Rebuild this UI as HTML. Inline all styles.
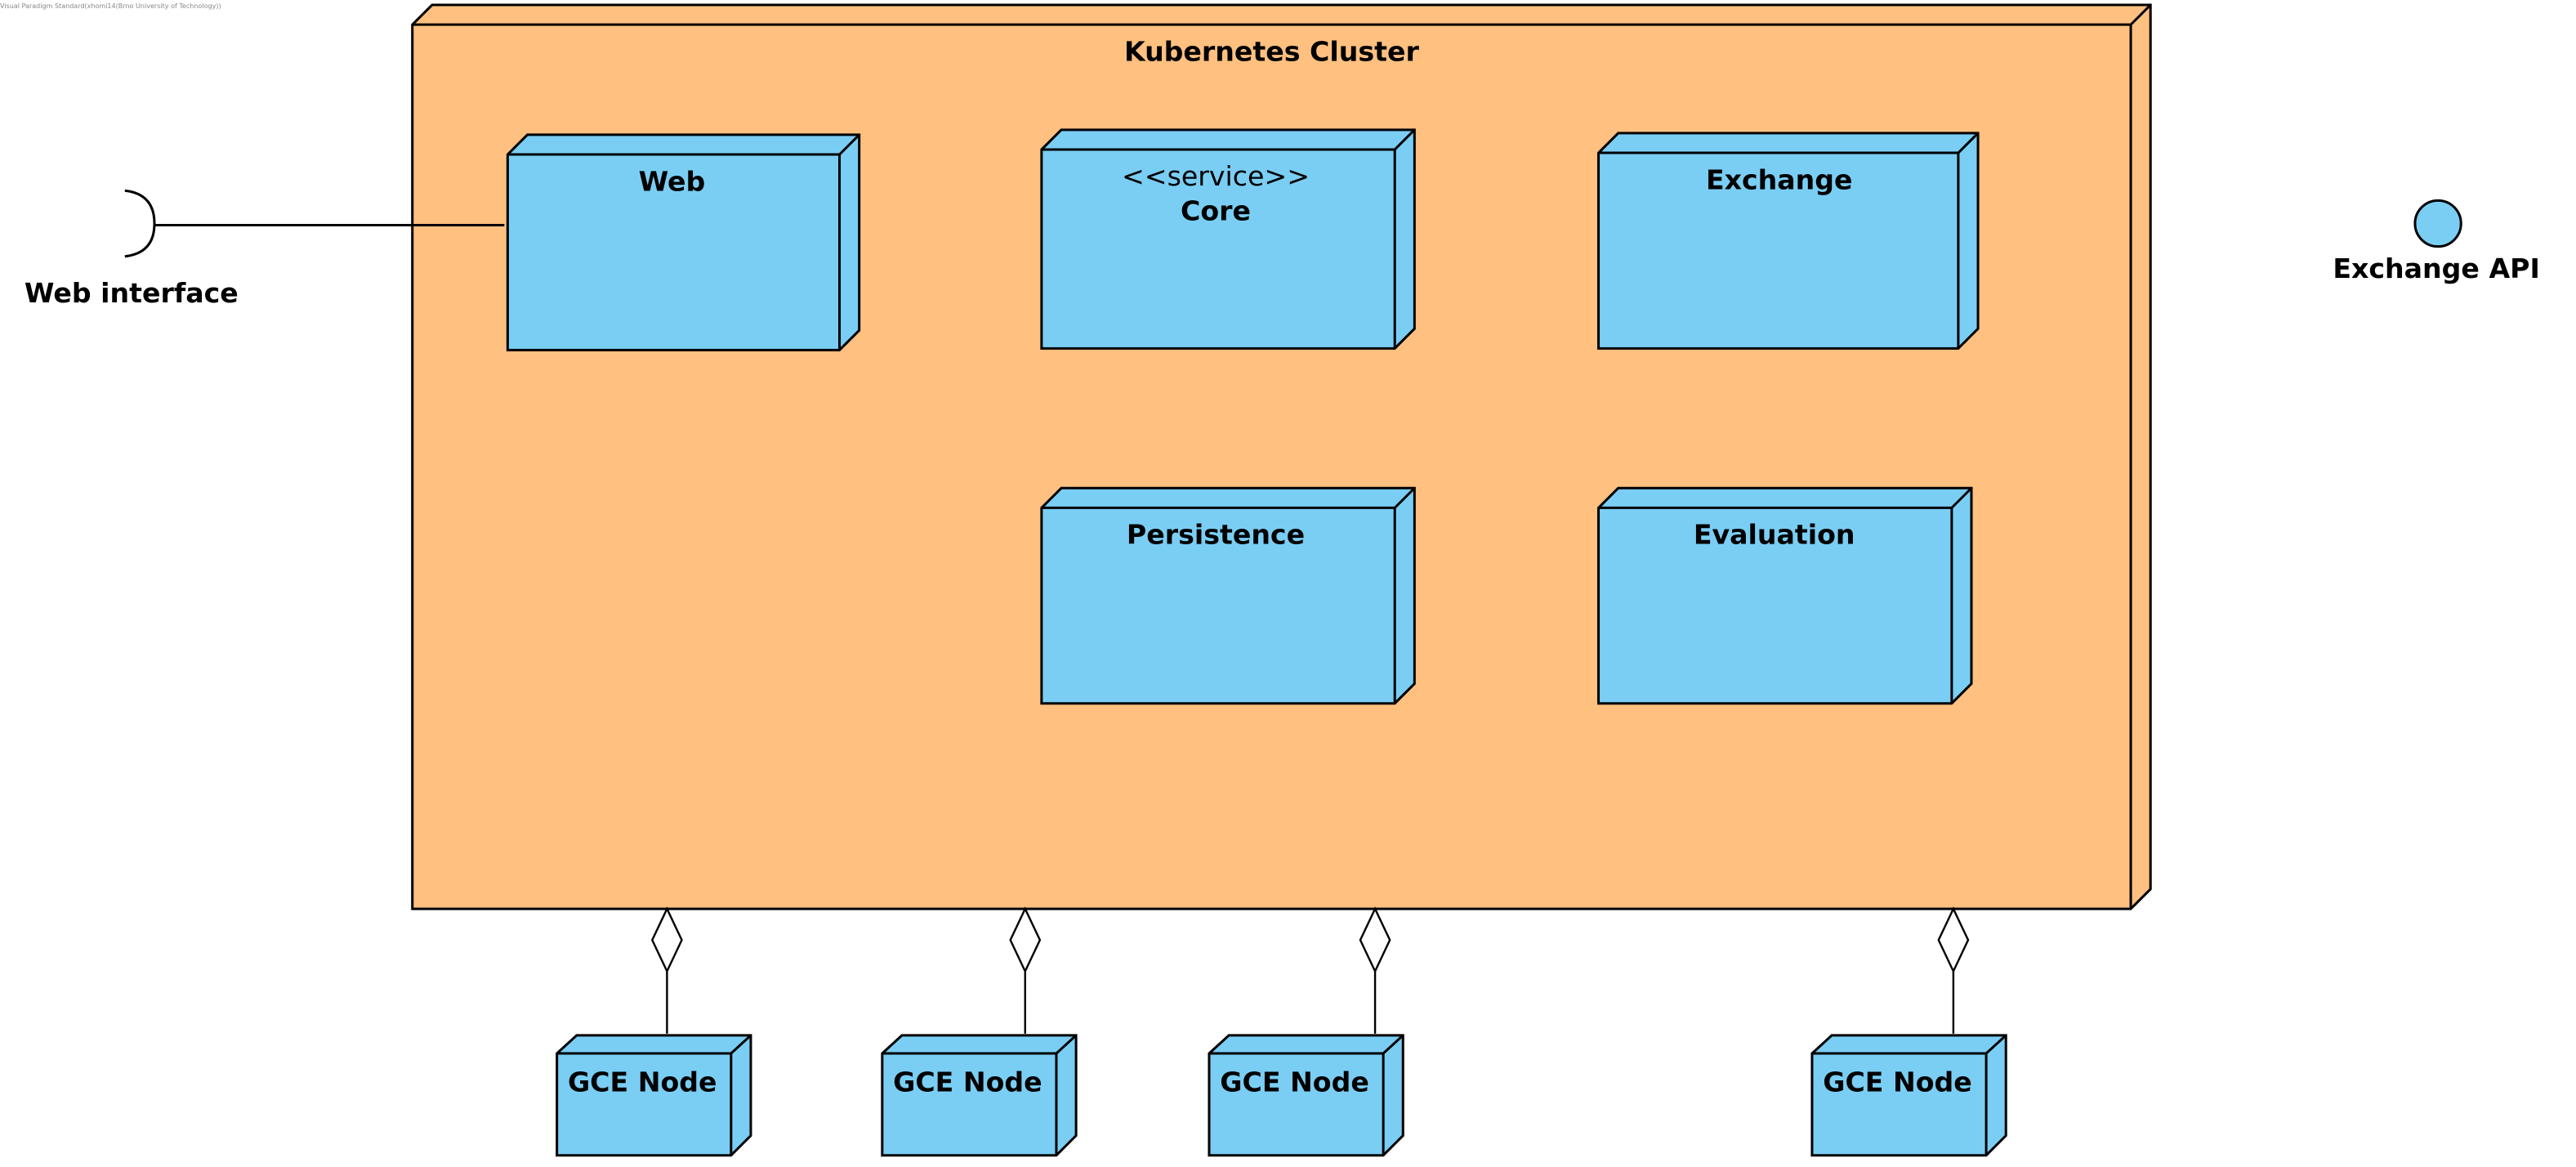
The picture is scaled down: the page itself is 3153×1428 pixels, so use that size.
<!DOCTYPE html>
<html><head><meta charset="utf-8"><style>
html,body{margin:0;padding:0;background:#fff;}
svg{display:block;}
text{font-family:"DejaVu Sans","Liberation Sans",sans-serif;fill:#000;}
.b{font-weight:bold;font-size:16.5px;}
</style></head><body>
<svg width="3153" height="1428" viewBox="0 0 1568 710.1" preserveAspectRatio="none" xmlns="http://www.w3.org/2000/svg">
<text x="0" y="5" style="font-size:4px;fill:#888">Visual Paradigm Standard(xhomi14(Brno University of Technology))</text>
<g stroke="#000" stroke-width="1.5" stroke-linejoin="miter">
<polygon points="251,15 263,3 1309,3 1309,541 1297,553 251,553" fill="#FFC080"/>
<polyline points="251,15 1297,15 1309,3" fill="none"/>
<line x1="1297" y1="15" x2="1297" y2="553"/>
<g fill="#7ACEF4">
<polygon points="309,94 321,82 523,82 523,201 511,213 309,213"/><polyline points="309,94 511,94 523,82" fill="none"/><line x1="511" y1="94" x2="511" y2="213"/>
<polygon points="634,91 646,79 861,79 861,200 849,212 634,212"/><polyline points="634,91 849,91 861,79" fill="none"/><line x1="849" y1="91" x2="849" y2="212"/>
<polygon points="973,93 985,81 1204,81 1204,200 1192,212 973,212"/><polyline points="973,93 1192,93 1204,81" fill="none"/><line x1="1192" y1="93" x2="1192" y2="212"/>
<polygon points="634,309 646,297 861,297 861,416 849,428 634,428"/><polyline points="634,309 849,309 861,297" fill="none"/><line x1="849" y1="309" x2="849" y2="428"/>
<polygon points="973,309 985,297 1200,297 1200,416 1188,428 973,428"/><polyline points="973,309 1188,309 1200,297" fill="none"/><line x1="1188" y1="309" x2="1188" y2="428"/>
<polygon points="339,641 351,630 457,630 457,691 445,703 339,703"/><polyline points="339,641 445,641 457,630" fill="none"/><line x1="445" y1="641" x2="445" y2="703"/>
<polygon points="537,641 549,630 655,630 655,691 643,703 537,703"/><polyline points="537,641 643,641 655,630" fill="none"/><line x1="643" y1="641" x2="643" y2="703"/>
<polygon points="736,641 748,630 854,630 854,691 842,703 736,703"/><polyline points="736,641 842,641 854,630" fill="none"/><line x1="842" y1="641" x2="842" y2="703"/>
<polygon points="1103,641 1115,630 1221,630 1221,691 1209,703 1103,703"/><polyline points="1103,641 1209,641 1221,630" fill="none"/><line x1="1209" y1="641" x2="1209" y2="703"/>
<circle cx="1484" cy="136" r="14"/>
</g>
<g fill="#fff" stroke-width="1.2">
<polygon points="406,553 415,572 406,591 397,572"/><line x1="406" y1="591" x2="406" y2="629"/>
<polygon points="624,553 633,572 624,591 615,572"/><line x1="624" y1="591" x2="624" y2="629"/>
<polygon points="837,553 846,572 837,591 828,572"/><line x1="837" y1="591" x2="837" y2="629"/>
<polygon points="1189,553 1198,572 1189,591 1180,572"/><line x1="1189" y1="591" x2="1189" y2="629"/>
</g>
<path d="M76,116 Q94,118 94,136 Q94,154 76,156" fill="none"/>
<line x1="94" y1="137" x2="307" y2="137"/>
</g>
<g text-anchor="middle">
<text class="b" x="774" y="37">Kubernetes Cluster</text>
<text class="b" x="409" y="116">Web</text>
<text x="740" y="113" style="font-size:16.5px">&lt;&lt;service&gt;&gt;</text>
<text class="b" x="740" y="134">Core</text>
<text class="b" x="1083" y="115">Exchange</text>
<text class="b" x="740" y="331">Persistence</text>
<text class="b" x="1080" y="331">Evaluation</text>
<text class="b" x="391" y="664">GCE Node</text>
<text class="b" x="589" y="664">GCE Node</text>
<text class="b" x="788" y="664">GCE Node</text>
<text class="b" x="1155" y="664">GCE Node</text>
<text class="b" x="80" y="184">Web interface</text>
<text class="b" x="1483" y="169">Exchange API</text>
</g>
</svg>
</body></html>
